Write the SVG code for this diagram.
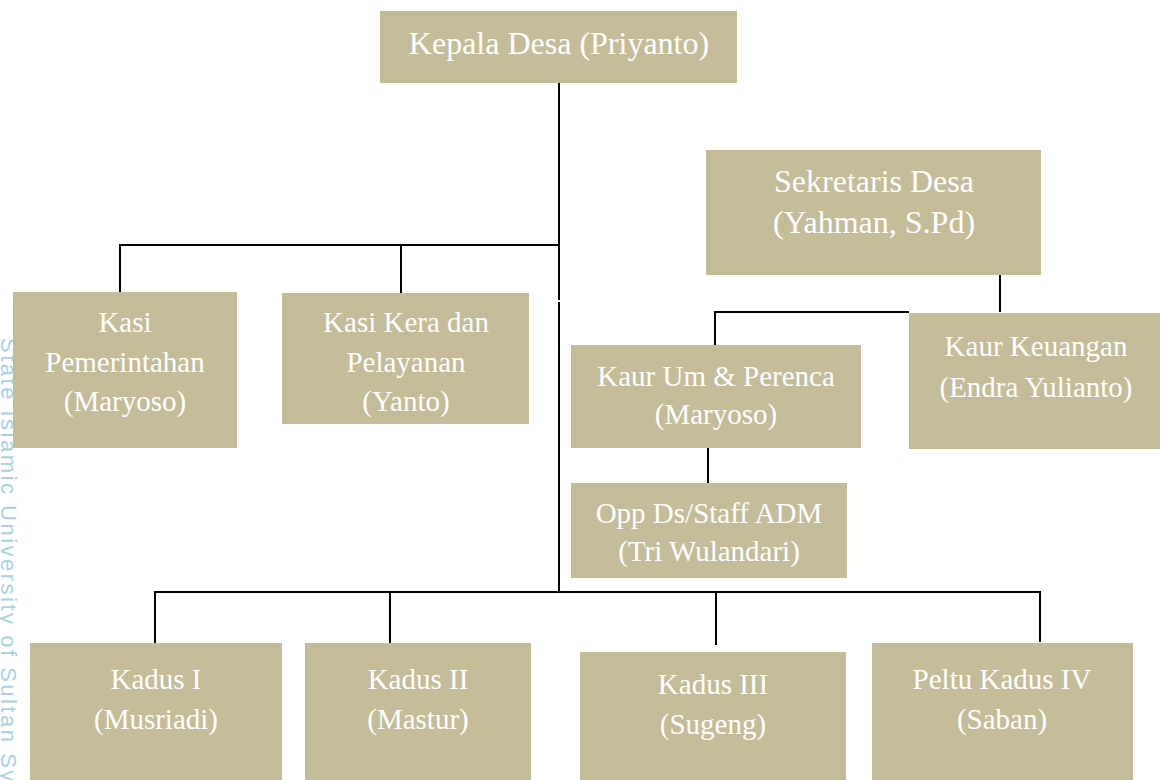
<svg xmlns="http://www.w3.org/2000/svg" width="1160" height="780" viewBox="0 0 1160 780">
<style>
.box{fill:#c4bc98}
.t{font-family:"Liberation Serif","Times New Roman",serif;font-size:29px;fill:#ffffff;text-anchor:middle}
.tl{font-size:32px}
.ln{stroke:#000;stroke-width:2;fill:none}
.wm{font-family:"Liberation Sans",Arial,sans-serif;font-size:22px;letter-spacing:2.5px;fill:#6fb3d2;opacity:0.6}
</style>
<rect width="1160" height="780" fill="#ffffff"/>
<text class="wm" transform="translate(1,338) rotate(90)">State Islamic University of Sultan Syarif Kasim Riau</text>
<g id="connectors">
<path class="ln" d="M559,83 V300 M559,302 V592"/>
<path class="ln" d="M120,292 V245 H559 M401,245 V293"/>
<path class="ln" d="M1000,275 V312 M715,345 V312 H909"/>
<path class="ln" d="M708,448 V483"/>
<path class="ln" d="M155,643 V592 H1040 V642 M390,592 V643 M716,592 V645"/>
</g>
<g id="kepala-desa"><rect class="box" x="380" y="11" width="357" height="72"/><text class="t tl" x="559" y="54">Kepala Desa (Priyanto)</text></g>
<g id="sekretaris-desa"><rect class="box" x="706" y="150" width="335" height="125"/><text class="t tl" x="874" y="192">Sekretaris Desa</text><text class="t tl" x="874" y="233">(Yahman, S.Pd)</text></g>
<g id="kasi-pemerintahan"><rect class="box" x="13" y="292" width="224" height="156"/><text class="t" x="125" y="332">Kasi</text><text class="t" x="125" y="372">Pemerintahan</text><text class="t" x="125" y="411">(Maryoso)</text></g>
<g id="kasi-kera"><rect class="box" x="282" y="293" width="247" height="131"/><text class="t" x="406" y="332">Kasi Kera dan</text><text class="t" x="406" y="372">Pelayanan</text><text class="t" x="406" y="411">(Yanto)</text></g>
<g id="kaur-keuangan"><rect class="box" x="909" y="313" width="251" height="136"/><text class="t" x="1036" y="356">Kaur Keuangan</text><text class="t" x="1036" y="397">(Endra Yulianto)</text></g>
<g id="kaur-um"><rect class="box" x="571" y="345" width="290" height="103"/><text class="t" x="716" y="386">Kaur Um &amp; Perenca</text><text class="t" x="716" y="424">(Maryoso)</text></g>
<g id="opp-ds"><rect class="box" x="571" y="483" width="276" height="95"/><text class="t" x="709" y="523">Opp Ds/Staff ADM</text><text class="t" x="709" y="561">(Tri Wulandari)</text></g>
<g id="kadus-1"><rect class="box" x="30" y="643" width="252" height="137"/><text class="t" x="156" y="689">Kadus I</text><text class="t" x="156" y="729">(Musriadi)</text></g>
<g id="kadus-2"><rect class="box" x="305" y="643" width="226" height="137"/><text class="t" x="418" y="689">Kadus II</text><text class="t" x="418" y="729">(Mastur)</text></g>
<g id="kadus-3"><rect class="box" x="580" y="652" width="266" height="128"/><text class="t" x="713" y="694">Kadus III</text><text class="t" x="713" y="734">(Sugeng)</text></g>
<g id="kadus-4"><rect class="box" x="872" y="643" width="261" height="137"/><text class="t" x="1002" y="689">Peltu Kadus IV</text><text class="t" x="1002" y="729">(Saban)</text></g>
</svg>
